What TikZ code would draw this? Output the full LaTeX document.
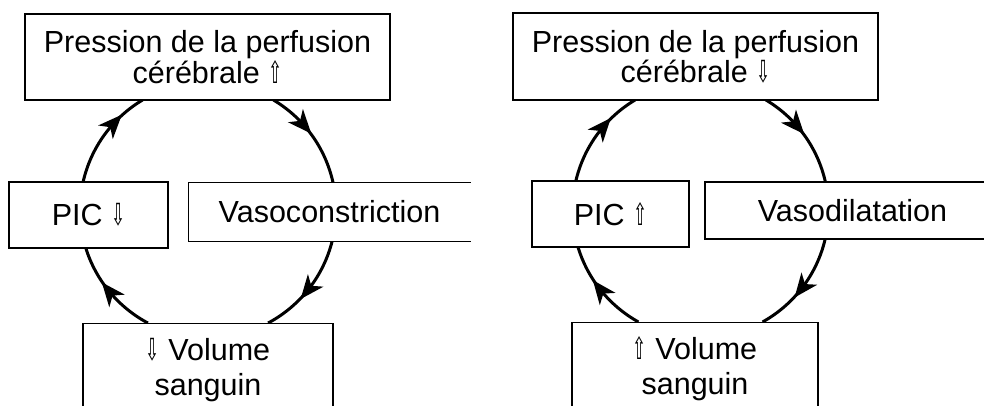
\documentclass[tikz,border=0pt]{standalone}
\usepackage{fontspec}
\setmainfont{Liberation Sans}
\newfontfamily\arrfont{DejaVu Sans}
\usetikzlibrary{decorations.markings}
\newcommand\UpA{{\arrfont\scalebox{0.55}[1]{⇧}}}
\newcommand\DnA{{\arrfont\scalebox{0.55}[1]{⇩}}}
\begin{document}
\begin{tikzpicture}[x=1pt,y=1pt,
  box/.style={draw, line width=1.4pt, fill=white, inner sep=0pt, align=center,
              font=\fontsize{30.5}{28}\selectfont},
  lowbox/.style={box, anchor=north, font=\fontsize{30.5}{35}\selectfont,
              text height=57pt, text depth=40pt, inner ysep=15pt},
  edge/.style={line width=1.4pt},
  cyc/.style={line width=3pt},
  midarr/.style={postaction={decorate}, decoration={markings,
     mark=at position #1 with {\fill (11pt,0pt) -- (-13pt,10pt) -- (-6pt,0pt) -- (-13pt,-10pt) -- cycle;}}}
]
\clip (0,0) rectangle (984,405);
\fill[white] (0,0) rectangle (984,405);
% ---------- left cycle ----------
\coordinate (cL) at (208,195);
\draw[cyc, midarr=0.65] ([shift={(167.4:128)}]cL) arc[start angle=167.4, end angle=120.7, radius=128];
\draw[cyc, midarr=0.38] ([shift={(59.3:128)}]cL) arc[start angle=59.3, end angle=12.2, radius=128];
\draw[cyc, midarr=0.52] ([shift={(-14:128)}]cL) arc[start angle=-14, end angle=-62, radius=128];
\draw[cyc, midarr=0.51] ([shift={(242:128)}]cL) arc[start angle=242, end angle=197.3, radius=128];
\node[box, minimum width=365, minimum height=86] (tL) at (207.5,348) {Pression de la perfusion\\cérébrale \UpA};
\node[box, minimum width=159, minimum height=66] (pL) at (88.5,190) {PIC \DnA};
\node[box, draw=none, minimum width=281, minimum height=58] (vL) at (329.5,193) {Vasoconstriction};
\draw[edge] (vL.north east) -- (vL.north west) -- (vL.south west) -- (vL.south east);
\node[lowbox, minimum width=250] (bL) at (208,82) {\DnA{} Volume\\sanguin};
% ---------- right cycle ----------
\coordinate (cR) at (700.5,195);
\draw[cyc, midarr=0.60] ([shift={(166.9:128)}]cR) arc[start angle=166.9, end angle=120.7, radius=128];
\draw[cyc, midarr=0.39] ([shift={(59.3:128)}]cR) arc[start angle=59.3, end angle=12.6, radius=128];
\draw[cyc, midarr=0.52] ([shift={(-13.1:128)}]cR) arc[start angle=-13.1, end angle=-61, radius=128];
\draw[cyc, midarr=0.52] ([shift={(241:128)}]cR) arc[start angle=241, end angle=196.8, radius=128];
\node[box, minimum width=365, minimum height=87] (tR) at (695.5,348.5) {Pression de la perfusion\\cérébrale \DnA};
\node[box, minimum width=157, minimum height=66] (pR) at (610.5,191) {PIC \UpA};
\node[box, minimum width=295, minimum height=57] (vR) at (852.5,194.5) {Vasodilatation};
\node[lowbox, minimum width=246] (bR) at (695,83) {\UpA{} Volume\\sanguin};
\end{tikzpicture}
\end{document}
